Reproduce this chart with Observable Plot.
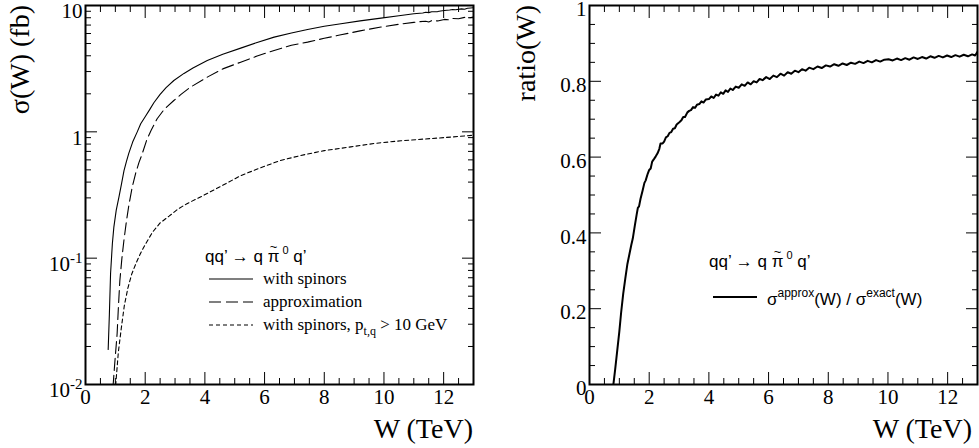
<!DOCTYPE html>
<html><head><meta charset="utf-8">
<script src="https://cdn.jsdelivr.net/npm/d3@7"></script>
<script src="https://cdn.jsdelivr.net/npm/@observablehq/plot@0.6"></script>
<style>
body{margin:0;background:#fff;}
#wrap{display:flex;width:979px;height:448px;overflow:hidden;}
#wrap svg{flex:none;display:block;}
</style></head><body><div id="wrap"></div>
<script>
// ---- data: sigma(W) in fb, "with spinors"
const spinorsW = [0.76,0.80,0.84,0.90,0.95,1.03,1.12,1.20,1.29,1.37,1.45,1.58,1.73,1.85,2.01,2.15,2.29,2.50,2.70,2.96,3.30,3.60,4.08,4.60,5.20,5.75,6.32,6.90,7.44,8.0,8.56,9.2,9.9,10.5,11.0,11.3,11.4,11.5,11.6,11.8,11.9,12.02,12.2,12.3,12.4,12.6,12.7,12.8,12.9,13.0];
const spinorsS = [0.0189,0.036,0.0757,0.13,0.176,0.24,0.304,0.38,0.494,0.58,0.675,0.83,0.995,1.16,1.33,1.50,1.70,1.98,2.24,2.55,2.90,3.2,3.67,4.12,4.6,5.1,5.62,6.05,6.46,6.85,7.17,7.55,7.94,8.3,8.6,8.72,8.85,8.78,8.92,8.95,9.05,9.12,9.2,9.3,9.25,9.4,9.35,9.5,9.55,9.6];
// "approximation"
const approxW = [0.92,0.98,1.06,1.10,1.15,1.22,1.29,1.37,1.45,1.56,1.68,1.79,1.90,2.05,2.20,2.40,2.65,2.96,3.20,3.52,4.08,4.60,5.20,5.75,6.32,6.90,7.44,8.0,8.56,9.2,9.9,10.5,11.0,11.2,11.4,11.5,11.6,11.8,12.02,12.2,12.3,12.5,12.7,12.8,13.0];
const approxS = [0.0095,0.0147,0.0253,0.04,0.066,0.10,0.14,0.195,0.26,0.36,0.47,0.57,0.67,0.86,1.03,1.27,1.52,1.77,1.98,2.26,2.71,3.15,3.56,3.98,4.41,4.85,5.13,5.5,5.86,6.3,6.75,7.1,7.35,7.45,7.5,7.4,7.6,7.55,7.76,7.7,7.9,7.85,8.05,7.95,8.1];
// "with spinors, p_t,q > 10 GeV"
const ptcutW = [1.01,1.10,1.20,1.30,1.42,1.55,1.70,1.85,2.00,2.24,2.50,2.80,3.10,3.40,3.91,4.53,5.2,5.87,6.5,7.21,8.0,8.89,9.7,10.57,11.3,12.02,12.98];
const ptcutS = [0.0098,0.018,0.028,0.042,0.058,0.075,0.092,0.11,0.128,0.16,0.19,0.215,0.245,0.27,0.31,0.37,0.45,0.52,0.59,0.65,0.71,0.76,0.81,0.85,0.875,0.9,0.94];
// ratio sigma^approx / sigma^exact
const ratioW = [0.80,0.86,0.93,1.00,1.06,1.13,1.20,1.27,1.34,1.40,1.45,1.52,1.58,1.62,1.66,1.71,1.78,1.84,1.88,1.95,2.00,2.05,2.10,2.17,2.22,2.28,2.34,2.38,2.45,2.50,2.56,2.62,2.68,2.74,2.80,2.86,2.92,3.01,3.08,3.14,3.20,3.28,3.34,3.40,3.47,3.54,3.60,3.68,3.75,3.82,3.90,4.00,4.08,4.16,4.24,4.32,4.40,4.48,4.56,4.64,4.72,4.80,4.90,5.00,5.10,5.20,5.30,5.40,5.50,5.60,5.70,5.80,5.92,6.04,6.16,6.28,6.40,6.52,6.64,6.76,6.88,7.00,7.12,7.24,7.36,7.50,7.64,7.78,7.92,8.06,8.20,8.34,8.48,8.62,8.76,8.90,9.04,9.18,9.32,9.46,9.60,9.74,9.88,10.02,10.16,10.30,10.44,10.58,10.72,10.86,11.00,11.14,11.28,11.42,11.56,11.70,11.84,11.98,12.12,12.26,12.40,12.54,12.68,12.82,12.92,13.00];
const ratioR = [0.000,0.040,0.090,0.140,0.190,0.240,0.280,0.318,0.345,0.368,0.385,0.420,0.448,0.466,0.470,0.490,0.512,0.532,0.538,0.556,0.566,0.570,0.588,0.596,0.602,0.610,0.622,0.636,0.636,0.641,0.652,0.655,0.664,0.666,0.675,0.676,0.686,0.692,0.697,0.706,0.706,0.718,0.722,0.724,0.732,0.730,0.738,0.740,0.747,0.744,0.752,0.753,0.760,0.756,0.765,0.762,0.771,0.767,0.776,0.772,0.781,0.777,0.786,0.783,0.792,0.788,0.797,0.792,0.800,0.797,0.806,0.803,0.811,0.806,0.815,0.811,0.820,0.815,0.824,0.820,0.828,0.824,0.832,0.828,0.836,0.832,0.839,0.835,0.842,0.839,0.845,0.841,0.847,0.843,0.849,0.846,0.852,0.848,0.854,0.850,0.856,0.852,0.857,0.858,0.855,0.860,0.856,0.861,0.857,0.863,0.859,0.864,0.860,0.866,0.862,0.867,0.863,0.868,0.864,0.869,0.865,0.870,0.866,0.871,0.868,0.878];

// ---- ticks
const xMajor = [0,2,4,6,8,10,12];
const xMinor = [0.5,1,1.5,2.5,3,3.5,4.5,5,5.5,6.5,7,7.5,8.5,9,9.5,10.5,11,11.5,12.5];
const xLabels = ["0","2","4","6","8","10","12"];
const logMajor = [0.01,0.1,1,10];
const logMinor = [0.02,0.03,0.04,0.05,0.06,0.07,0.08,0.09,0.2,0.3,0.4,0.5,0.6,0.7,0.8,0.9,2,3,4,5,6,7,8,9];
const logLabels = ["10^-2","10^-1","1","10"];
const ratioMajor = [0,0.2,0.4,0.6,0.8,1];
const ratioMinor = [0.05,0.1,0.15,0.25,0.3,0.35,0.45,0.5,0.55,0.65,0.7,0.75,0.85,0.9,0.95];
const ratioLabels = ["0","0.2","0.4","0.6","0.8","1"];

const legendLeft = ["with spinors","approximation","with spinors, p"];

const rows = (W, V) => W.map((w, i) => ({W: w, v: V[i]}));

function frameAxes(xMaj, xMin, yMaj, yMin, yLab, ydy) {
  const none = () => "";
  const c = {label: null, tickFormat: none};
  return [
    Plot.axisX(xMaj, {...c, anchor: "bottom", tickSize: -12}),
    Plot.axisX(xMin, {...c, anchor: "bottom", tickSize: -6}),
    Plot.axisX(xMaj, {...c, anchor: "top", tickSize: -12}),
    Plot.axisX(xMin, {...c, anchor: "top", tickSize: -6}),
    Plot.axisY(yMaj, {...c, anchor: "left", tickSize: -12}),
    Plot.axisY(yMin, {...c, anchor: "left", tickSize: -6}),
    Plot.axisY(yMaj, {...c, anchor: "right", tickSize: -12}),
    Plot.axisY(yMin, {...c, anchor: "right", tickSize: -6}),
    Plot.axisX(xMaj, {anchor: "bottom", tickSize: 0, tickPadding: 5, label: null,
      tickFormat: d => xLabels[xMajor.indexOf(d)]}),
    Plot.axisY(yMaj, {anchor: "left", tickSize: 0, tickPadding: 3, dy: ydy, label: null,
      tickFormat: d => yLab[yMaj.indexOf(d)]}),
    Plot.frame({stroke: "black", strokeWidth: 2})
  ];
}

const style = {fontFamily: "'Liberation Serif', 'Times New Roman', serif", fontSize: "21px", color: "black", background: "white", overflow: "visible"};

const left = Plot.plot({
  width: 489, height: 448,
  marginLeft: 85, marginRight: 16, marginTop: 5, marginBottom: 64,
  style,
  x: {domain: [0, 13]},
  y: {type: "log", domain: [0.01, 10]},
  marks: [
    Plot.line(rows(spinorsW, spinorsS), {x: "W", y: "v", stroke: "black", strokeWidth: 1.1, clip: true}),
    Plot.line(rows(approxW, approxS), {x: "W", y: "v", stroke: "black", strokeWidth: 1.1, strokeDasharray: "12,5", clip: true}),
    Plot.line(rows(ptcutW, ptcutS), {x: "W", y: "v", stroke: "black", strokeWidth: 1.1, strokeDasharray: "4,3", clip: true}),
    ...frameAxes(xMajor, xMinor, logMajor, logMinor, logLabels, 6)
  ]
});

const right = Plot.plot({
  width: 490, height: 448,
  marginLeft: 100, marginRight: 2, marginTop: 5, marginBottom: 64,
  style,
  x: {domain: [0, 13]},
  y: {domain: [0, 1]},
  marks: [
    Plot.line(rows(ratioW, ratioR), {x: "W", y: "v", stroke: "black", strokeWidth: 2, clip: true}),
    ...frameAxes(xMajor, xMinor, ratioMajor, ratioMinor, ratioLabels, 4)
  ]
});

const wrap = document.getElementById("wrap");
wrap.append(left, right);

// superscripts in log tick labels
const NS = "http://www.w3.org/2000/svg";
left.querySelectorAll("text").forEach(t => {
  const s = t.textContent;
  if (s.includes("^")) {
    const [b, e] = s.split("^");
    t.textContent = "";
    const a = document.createElementNS(NS, "tspan"); a.textContent = b; t.appendChild(a);
    const sp = document.createElementNS(NS, "tspan"); sp.textContent = e;
    sp.setAttribute("dy", "-8"); sp.setAttribute("font-size", "15px"); t.appendChild(sp);
  }
});

const serif = "'Liberation Serif', serif";
const sans = "'Liberation Sans', Arial, sans-serif";

function addTitles(svg, ylab, yx, xright) {
  const s = d3.select(svg);
  s.append("text").attr("transform", `translate(${yx},5) rotate(-90)`).attr("text-anchor", "end")
    .attr("font-family", serif).attr("font-size", 28).attr("fill", "black").text(ylab);
  s.append("text").attr("x", xright).attr("y", 438).attr("text-anchor", "end")
    .attr("font-family", serif).attr("font-size", 28).attr("fill", "black").text("W (TeV)");
}
addTitles(left, "σ(W) (fb)", 29, 473);
addTitles(right, "ratio(W)", 46, 483);

function processText(svg, x, y) {
  const s = d3.select(svg);
  const t = s.append("text").attr("x", x).attr("y", y).attr("text-anchor", "start")
    .attr("font-family", sans).attr("font-size", 17).attr("fill", "black");
  t.append("tspan").text("qq’ → q π");
  t.append("tspan").attr("dy", -8).attr("dx", 3).attr("font-size", 11).text("0");
  t.append("tspan").attr("dy", 8).text(" q’");
  const n = t.node();
  const a = n.getStartPositionOfChar(8).x, b = n.getEndPositionOfChar(8).x;
  s.append("text").attr("x", (a + b) / 2).attr("y", y - 11).attr("text-anchor", "middle")
    .attr("font-family", sans).attr("font-size", 13).attr("fill", "black").text("~");
}

// left legend
{
  const s = d3.select(left);
  processText(left, 205, 262);
  const dashes = [null, "12,5", "4,3"];
  const ys = [279, 302, 325];
  ys.forEach((y, i) => {
    s.append("line").attr("x1", 209).attr("x2", 253).attr("y1", y).attr("y2", y)
      .attr("stroke", "black").attr("stroke-width", 1.1).attr("stroke-dasharray", dashes[i]);
    const t = s.append("text").attr("x", 263).attr("y", y + 5).attr("text-anchor", "start")
      .attr("font-family", serif).attr("font-size", 17).attr("fill", "black");
    t.append("tspan").text(legendLeft[i]);
    if (i === 2) {
      t.append("tspan").attr("dy", 5).attr("font-size", 12).text("t,q");
      t.append("tspan").attr("dy", -5).text(" > 10 GeV");
    }
  });
}
// right legend
{
  const s = d3.select(right);
  processText(right, 220, 267);
  s.append("line").attr("x1", 224).attr("x2", 268).attr("y1", 297).attr("y2", 297)
    .attr("stroke", "black").attr("stroke-width", 2);
  const t = s.append("text").attr("x", 278).attr("y", 305).attr("text-anchor", "start")
    .attr("font-family", sans).attr("font-size", 17).attr("fill", "black");
  t.append("tspan").text("σ");
  t.append("tspan").attr("dy", -8).attr("font-size", 12).text("approx");
  t.append("tspan").attr("dy", 8).text("(W) / σ");
  t.append("tspan").attr("dy", -8).attr("font-size", 12).text("exact");
  t.append("tspan").attr("dy", 8).text("(W)");
}
</script></body></html>
